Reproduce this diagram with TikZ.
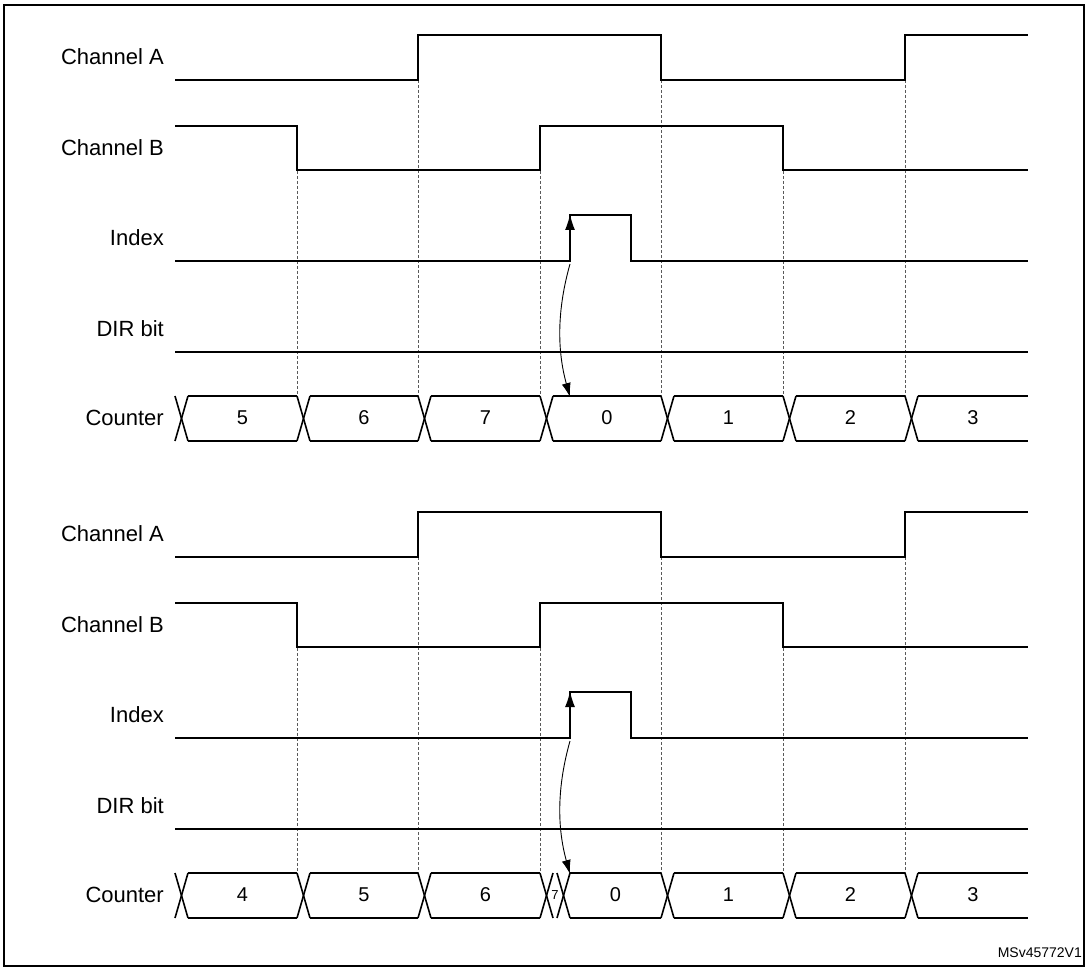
\documentclass[tikz,border=0pt]{standalone}
\usepackage{fontspec}
\setmainfont{Liberation Sans}
\usetikzlibrary{arrows.meta}
\begin{document}
\begin{tikzpicture}[x=1pt,y=-1pt,
  sig/.style={line width=1.6pt,line join=miter},
  guide/.style={densely dashed,line width=0.6pt,gray!70!black},
  lbl/.style={anchor=east,font=\fontsize{22}{26}\selectfont,inner sep=0pt},
  val/.style={font=\fontsize{20}{24}\selectfont,inner sep=0pt}]
\useasboundingbox (0,0) rectangle (1089,968);
\draw[line width=1.4pt] (4,5) rectangle (1084,966);
\node[anchor=south east,font=\fontsize{14}{16}\selectfont,inner sep=0pt] (ref) at (1082,958) {MSv45772V1};
\foreach \o/\p in {0/t,477/b}{
  \begin{scope}[yshift=-\o pt]
  \foreach \x/\y in {297/126,418/35,540/126,661/35,783/126,905/35}
    \draw[guide] (\x,\y) -- (\x,396);
  \node[lbl] (chA\p) at (164,57) {Channel A};
  \node[lbl] (chB\p) at (164,148) {Channel B};
  \node[lbl] (idx\p) at (164,238) {Index};
  \node[lbl] (dir\p) at (164,329) {DIR bit};
  \node[lbl] (cnt\p) at (164,418) {Counter};
  \draw[sig] (175,80) -- (418,80) -- (418,35) -- (661,35) -- (661,80) -- (905,80) -- (905,35) -- (1028,35);
  \draw[sig] (175,126) -- (297,126) -- (297,170) -- (540,170) -- (540,126) -- (783,126) -- (783,170) -- (1028,170);
  \draw[sig] (175,261) -- (570,261) -- (570,215) -- (631,215) -- (631,261) -- (1028,261);
  \draw[sig,-{Latex[length=16pt,width=10pt]}] (570,250) -- (570,214);
  \draw[sig] (175,352) -- (1028,352);
  \draw[line width=0.9pt,-{Latex[length=14pt,width=9pt]}] (570,264) .. controls (557,310) and (557,350) .. (570,397);
  \end{scope}}
\foreach \o/\list in {0/{175,297,418,540,661,783,905},477/{175,297,418,540,557,661,783,905}}{
  \begin{scope}[yshift=-\o pt]
  \foreach \c in \list {
    \draw[sig] (\c,396) -- (\c+13,441);
    \draw[sig] (\c,441) -- (\c+13,396);
  }
  \end{scope}}
\foreach \a/\b/\v [count=\i] in {188/297/5,310/418/6,431/540/7,553/661/0,674/783/1,796/905/2,918/1028/3}{
  \draw[sig] (\a,396) -- (\b,396);
  \draw[sig] (\a,441) -- (\b,441);
  \node[val] (vt\i) at ({(\a+\b)/2},418) {\v};
}
\begin{scope}[yshift=-477pt]
\foreach \a/\b/\v [count=\i] in {188/297/4,310/418/5,431/540/6,570/661/0,674/783/1,796/905/2,918/1028/3}{
  \draw[sig] (\a,396) -- (\b,396);
  \draw[sig] (\a,441) -- (\b,441);
  \node[val] (vb\i) at ({(\a+\b)/2},418) {\v};
}
\node[val,font=\fontsize{13}{14}\selectfont] (vb7s) at (555,418) {7};
\end{scope}
\end{tikzpicture}
\end{document}
